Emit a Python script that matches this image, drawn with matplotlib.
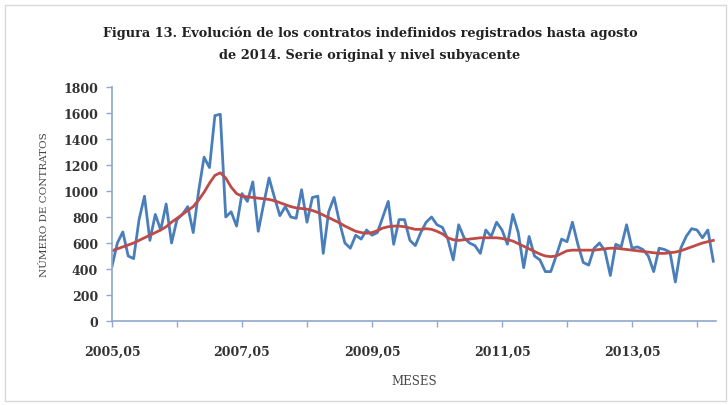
import numpy as np
import matplotlib.pyplot as plt
from matplotlib.patches import Rectangle

# monthly data 2005,05 .. 2014,08 (112 months)
first_year, first_month = 2005, 5
original = [
    420, 600, 685, 500, 480, 780, 960, 620, 820, 700,
    900, 600, 780, 820, 880, 680, 1000, 1260, 1180, 1580,
    1590, 800, 840, 730, 980, 920, 1070, 690, 900, 1100,
    950, 810, 880, 800, 790, 1010, 760, 950, 960, 520,
    840, 950, 760, 600, 560, 660, 630, 700, 660, 680,
    800, 920, 590, 780, 780, 620, 580, 680, 760, 800,
    740, 720, 630, 470, 740, 640, 600, 580, 520, 700,
    650, 760, 700, 590, 820, 680, 410, 650, 500, 470,
    380, 380, 500, 630, 610, 760, 590, 450, 430, 560,
    600, 540, 350, 590, 570, 740, 560, 570, 550, 500,
    380, 560, 550, 530, 300, 560, 650, 710, 700, 640,
    700, 460,
]
trend = [
    540, 555, 570, 585, 600, 620, 640, 660, 680, 700,
    725, 760, 790, 820, 850, 880, 930, 990, 1060, 1120,
    1140, 1100, 1030, 980, 960, 955, 950, 945, 940, 935,
    925, 910, 895, 880, 870, 865, 860, 850, 835, 815,
    795, 775, 755, 730, 710, 690, 680, 675, 680, 695,
    715, 725, 730, 730, 725, 715, 705, 705, 710, 705,
    690, 670, 640, 625, 620, 625, 630, 635, 640, 640,
    640, 640, 635, 625, 615, 595, 575, 555, 535, 515,
    500, 495, 500, 520, 540, 545, 545, 545, 545, 545,
    550, 555, 560, 560, 555, 550, 545, 540, 535, 530,
    525, 520, 520, 525, 530, 540, 555, 570, 585, 600,
    610, 620,
]

months = []
for k in range(len(original)):
    m = first_month - 1 + k
    months.append("%d,%02d" % (first_year + m // 12, m % 12 + 1))

serif = ['DejaVu Serif']
axis_col = '#8fa8cc'

fig = plt.figure(figsize=(7.28, 4.06), dpi=100)
fig.patches.append(Rectangle((0.007, 0.01), 0.99, 0.975, transform=fig.transFigure,
                             fill=False, edgecolor='#d9d9d9', lw=1))

ax = fig.add_axes([0.1538, 0.2069, 0.8297, 0.5764])
x = np.arange(len(original))
ax.plot(x, original, color='#4a7ebb', lw=2.0, solid_joinstyle='round')
ax.plot(x, trend, color='#be4b48', lw=2.0, solid_joinstyle='round')

ax.set_xlim(0, 111.5)
ax.set_ylim(0, 1800)
ax.set_yticks(range(0, 1801, 200))
ax.set_xticks(range(0, len(original), 12))
ax.set_xticklabels([months[i] if i % 24 == 0 else '' for i in range(0, len(original), 12)])

for s in ['top', 'right']:
    ax.spines[s].set_visible(False)
for s in ['left', 'bottom']:
    ax.spines[s].set_color(axis_col)
    ax.spines[s].set_linewidth(1.2)
ax.tick_params(axis='both', colors=axis_col, length=4, width=1)
ax.tick_params(axis='y', pad=6)
ax.tick_params(axis='x', pad=13)
for lab in ax.get_xticklabels() + ax.get_yticklabels():
    lab.set_color('#333333')
    lab.set_fontfamily(serif)
    lab.set_fontweight('bold')
    lab.set_fontsize(9)

ax.set_ylabel('NÚMERO DE CONTRATOS', family=serif, fontsize=7.5, color='#444444', labelpad=10)
ax.set_xlabel('MESES', family=serif, fontsize=8.5, color='#444444', labelpad=12)

fig.text(0.508, 0.918, 'Figura 13. Evolución de los contratos indefinidos registrados hasta agosto',
         ha='center', va='center', family=serif, fontweight='bold', fontsize=9.3, color='#222222')
fig.text(0.508, 0.864, 'de 2014. Serie original y nivel subyacente',
         ha='center', va='center', family=serif, fontweight='bold', fontsize=9.3, color='#222222')

fig.savefig('out.png', dpi=100)
